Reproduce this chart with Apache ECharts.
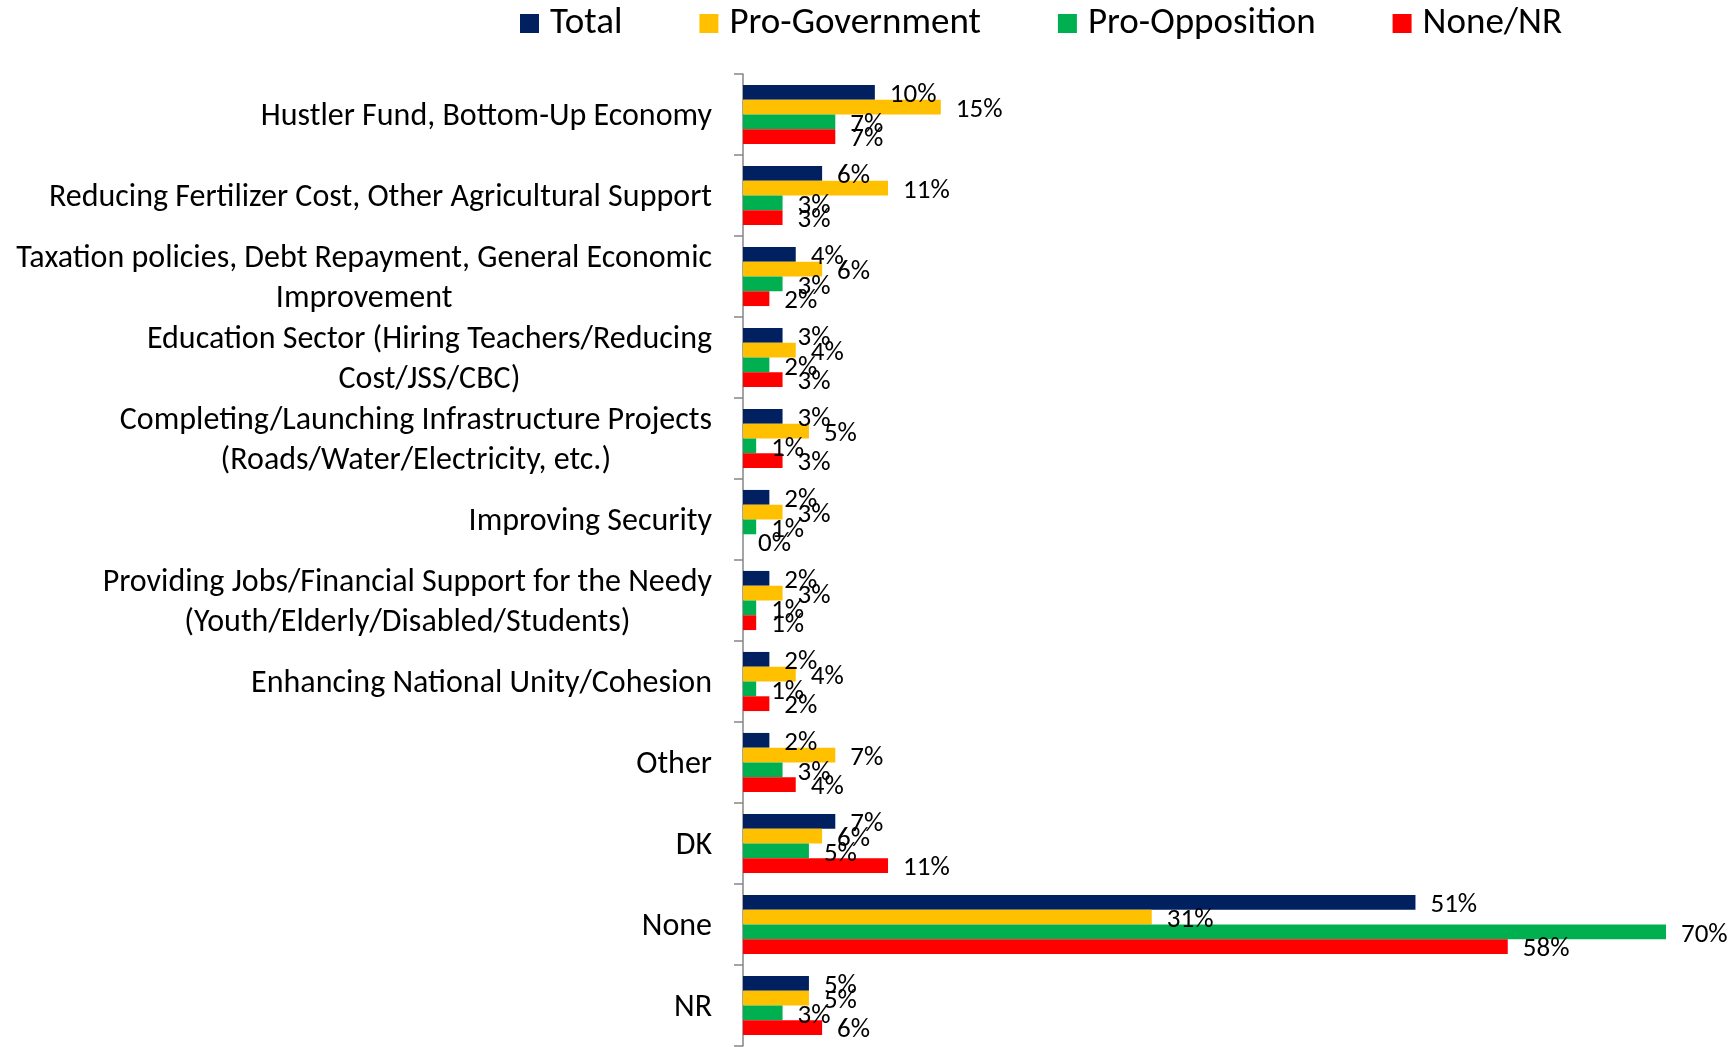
<!DOCTYPE html>
<html>
<head>
<meta charset="utf-8">
<script src="https://cdn.jsdelivr.net/npm/echarts@6/dist/echarts.min.js"></script>
<style>
html,body{margin:0;padding:0;background:#fff;}
#c{width:1732px;height:1047px;}
</style>
</head>
<body>
<div id="c"></div>
<script>
const categories = [
  "Hustler Fund, Bottom-Up Economy",
  "Reducing Fertilizer Cost, Other Agricultural Support",
  "Taxation policies, Debt Repayment, General Economic\nImprovement",
  "Education Sector (Hiring Teachers/Reducing\nCost/JSS/CBC)",
  "Completing/Launching Infrastructure Projects\n(Roads/Water/Electricity, etc.)",
  "Improving Security",
  "Providing Jobs/Financial Support for the Needy\n(Youth/Elderly/Disabled/Students)",
  "Enhancing National Unity/Cohesion",
  "Other",
  "DK",
  "None",
  "NR"
];
const seriesNames = ["Total", "Pro-Government", "Pro-Opposition", "None/NR"];
const total = [10, 6, 4, 3, 3, 2, 2, 2, 2, 7, 51, 5];
const proGovernment = [15, 11, 6, 4, 5, 3, 3, 4, 7, 6, 31, 5];
const proOpposition = [7, 3, 3, 2, 1, 1, 1, 1, 3, 5, 70, 3];
const noneNR = [7, 3, 2, 3, 3, 0, 1, 2, 4, 11, 58, 6];
const colors = ["#002060", "#FFC000", "#00B050", "#FF0000"];

const FONT = 'Carlito, "Liberation Sans Narrow", "DejaVu Sans Condensed", sans-serif';
const values = [total, proGovernment, proOpposition, noneNR];

const chart = echarts.init(document.getElementById('c'), null, {renderer: 'canvas'});
chart.setOption({
  animation: false,
  backgroundColor: '#ffffff',
  textStyle: {fontFamily: FONT},
  legend: {
    data: seriesNames,
    top: 0,
    left: 515,
    itemWidth: 19,
    itemHeight: 19,
    itemGap: 77,
    icon: 'rect',
    textStyle: {fontSize: 37, color: '#000', fontFamily: FONT, padding: [0, 0, 0, 6]}
  },
  grid: {left: 743, right: 66, top: 74, bottom: 1, containLabel: false},
  xAxis: {
    type: 'value', min: 0, max: 70, show: false
  },
  yAxis: {
    type: 'category',
    data: categories,
    inverse: true,
    axisLine: {show: true, lineStyle: {color: '#868686', width: 1.5}},
    axisTick: {show: true, length: 9, lineStyle: {color: '#868686', width: 1.5}},
    splitLine: {show: false},
    axisLabel: {
      margin: 31,
      padding: [5, 0, 0, 0],
      formatter: function (v) {
        return v.split('\n').map(function (l) { return '{c|' + l + '}'; }).join('\n');
      },
      rich: {
        c: {align: 'center', fontSize: 32, lineHeight: 40, color: '#000', fontFamily: FONT}
      }
    }
  },
  series: seriesNames.map(function (name, i) {
    return {
      name: name,
      type: 'bar',
      data: values[i],
      barGap: '0%',
      barCategoryGap: '27%',
      itemStyle: {color: colors[i]},
      label: {
        show: true,
        position: 'right',
        distance: 15,
        offset: [0, 3],
        formatter: '{c}%',
        fontSize: 27,
        color: '#000',
        fontFamily: FONT
      }
    };
  })
});
</script>
</body>
</html>
